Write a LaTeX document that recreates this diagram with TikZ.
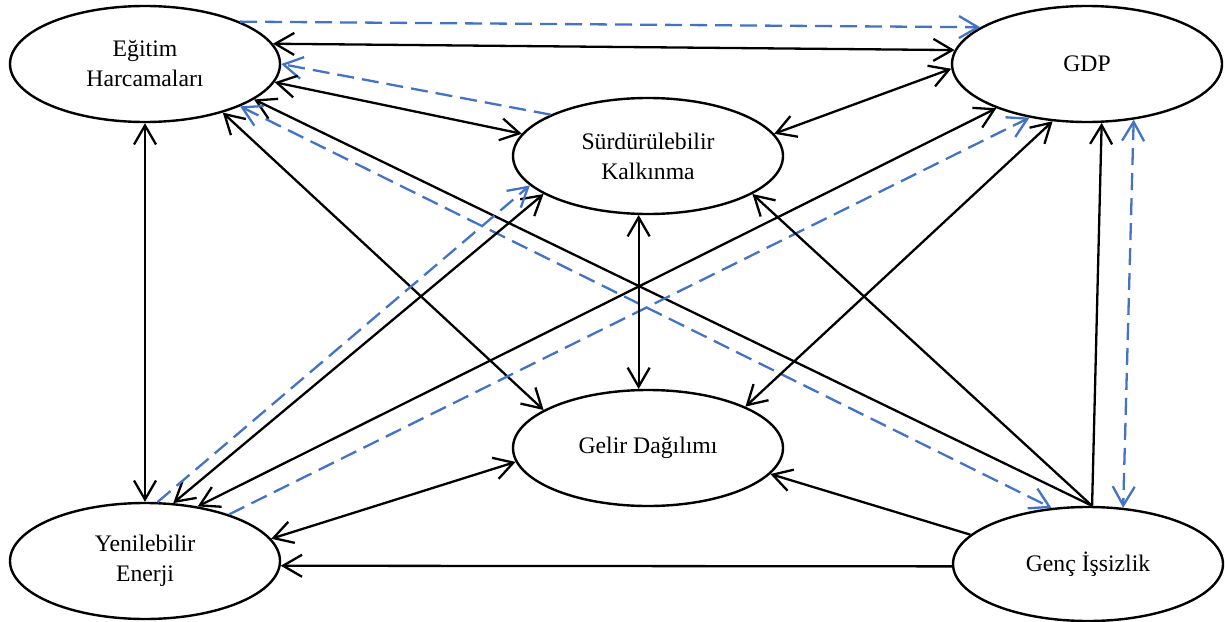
\documentclass[tikz,border=0pt]{standalone}
\usepackage{fontspec}
\setmainfont{Liberation Serif}
\usetikzlibrary{arrows.meta,shapes.geometric}
\definecolor{myblue}{HTML}{4472C4}
\begin{document}
\begin{tikzpicture}[x=1pt,y=-1pt,
  ell/.style={ellipse,draw,line width=2.4pt,minimum width=270pt,minimum height=116pt,inner sep=0pt,align=center,font=\fontsize{23.7}{30}\selectfont},
  conn/.style={line width=2.3pt,black},
  bl/.style={line width=2.3pt,color=myblue,dash pattern=on 17pt off 8pt},
  >={Straight Barb[length=19pt,width=22pt]}]
\useasboundingbox (0,0) rectangle (1225,621);
\node[ell] (E) at (145,64) {Eğitim\\Harcamaları};
\node[ell] (G) at (1087,64) {GDP};
\node[ell] (S) at (648,156) {Sürdürülebilir\\Kalkınma};
\node[ell] (L) at (648,448) {Gelir Dağılımı};
\node[ell] (Y) at (145,561) {Yenilebilir\\Enerji};
\node[ell,minimum height=114pt] (N) at (1088,564) {Genç İşsizlik};

\draw[conn,<->] (E.9) -- (G.174);
\draw[bl,->] (E.24) -- (G.161);
\draw[bl,->] (S.157) -- (E.0);
\draw[conn,<->] (E.-8) -- (S.170.5);
\draw[conn,->] (N.86) -- (E.-18);
\draw[bl,<->] (E.-24) -- (N.123);
\draw[conn,<->] (E.-32.5) -- (L.160);
\draw[conn,<->] (E.-90) -- (Y.90);
\draw[conn,<->] (S.10.4) -- (G.182.5);
\draw[conn,<->] (Y.46.5) -- (G.206);
\draw[conn,<->] (Y.64) -- (S.200.8);
\draw[bl,->] (Y.78.5) -- (S.194.7);
\draw[bl,->] (Y.29.5) -- (G.223.5);
\draw[conn,->] (N.86) -- (G.284);
\draw[bl,<->] (G.310) -- (N.58);
\draw[conn,->] (N.86) -- (S.340);
\draw[conn,<->] (G.239.6) -- (L.23.5);
\draw[conn,<->] (S.261) -- (L.99);
\draw[conn,<->] (Y.10.2) -- (L.186);
\draw[conn,->] (N.166) -- (L.348.7);
\draw[conn,->] (N.181) -- (Y.-2.5);
\end{tikzpicture}
\end{document}
